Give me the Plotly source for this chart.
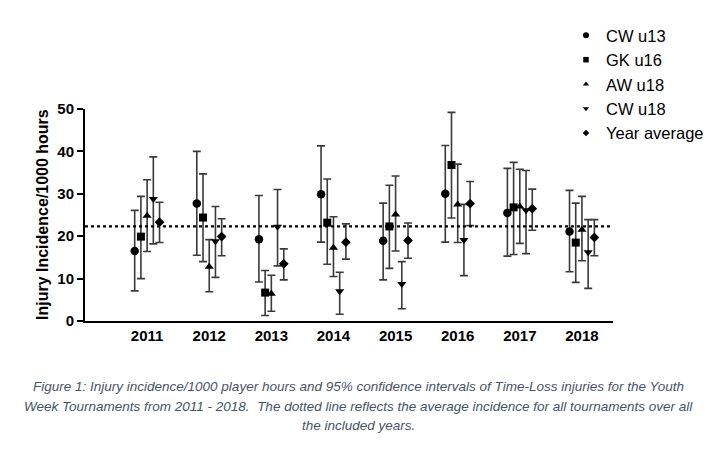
import plotly.graph_objects as go

years = ["2011", "2012", "2013", "2014", "2015", "2016", "2017", "2018"]
series_names = ["CW u13", "GK u16", "AW u18", "CW u18", "Year average"]

cw13_val = [16.5, 27.7, 19.3, 29.9, 18.9, 30.0, 25.5, 21.1]
cw13_hi = [26.1, 40.0, 29.6, 41.3, 27.8, 41.4, 36.0, 30.8]
cw13_lo = [7.1, 15.5, 9.2, 18.6, 9.7, 18.6, 15.3, 11.6]

gk16_val = [19.9, 24.4, 6.7, 23.2, 22.3, 36.8, 26.8, 18.5]
gk16_hi = [29.4, 34.7, 11.9, 33.5, 32.0, 49.2, 37.4, 27.8]
gk16_lo = [10.0, 14.0, 1.3, 13.4, 12.4, 24.3, 15.7, 9.1]

aw18_val = [24.8, 12.8, 6.4, 17.3, 25.1, 27.5, 27.0, 21.5]
aw18_hi = [33.3, 19.2, 10.8, 24.6, 34.2, 37.0, 35.8, 29.4]
aw18_lo = [16.4, 6.9, 2.3, 10.5, 16.5, 18.5, 18.3, 14.2]

cw18_val = [28.8, 18.8, 22.2, 7.0, 8.7, 19.1, 26.1, 16.2]
cw18_hi = [38.7, 27.0, 31.0, 11.5, 14.0, 27.5, 35.5, 23.9]
cw18_lo = [18.2, 10.3, 13.0, 1.6, 2.9, 10.7, 15.9, 7.7]

avg_val = [23.3, 19.9, 13.5, 18.6, 19.0, 27.7, 26.5, 19.7]
avg_hi = [28.0, 24.1, 17.0, 22.9, 23.1, 32.9, 31.1, 23.9]
avg_lo = [18.5, 15.4, 9.7, 14.6, 14.8, 22.5, 21.4, 15.4]

overall_average = 22.3

caption_lines = [
    "Figure 1: Injury incidence/1000 player hours and 95% confidence intervals of Time-Loss injuries for the Youth",
    "Week Tournaments from 2011 - 2018.  The dotted line reflects the average incidence for all tournaments over all",
    "the included years.",
]

series = [
    (cw13_val, cw13_hi, cw13_lo, "circle", 8.5),
    (gk16_val, gk16_hi, gk16_lo, "square", 8),
    (aw18_val, aw18_hi, aw18_lo, "triangle-up", 8),
    (cw18_val, cw18_hi, cw18_lo, "triangle-down", 8),
    (avg_val, avg_hi, avg_lo, "diamond", 7.5),
]

fig = go.Figure()
for name, (val, hi, lo, sym, sz) in zip(series_names, series):
    fig.add_trace(go.Scatter(
        x=years, y=val, name=name, mode="markers",
        offsetgroup=name, showlegend=False,
        marker=dict(symbol=sym, size=sz, color="black"),
        error_y=dict(type="data", symmetric=False,
                     array=[h - v for h, v in zip(hi, val)],
                     arrayminus=[v - l for v, l in zip(val, lo)],
                     color="#3a3a3a", thickness=1.6, width=4),
    ))

# legend-only entries with the smaller legend glyphs
for name, (_, _, _, sym, sz) in zip(series_names, series):
    fig.add_trace(go.Scatter(
        x=[None], y=[None], name=name, mode="markers",
        marker=dict(symbol=sym, size=sz - 2.5, color="black"),
    ))

fig.add_shape(type="line", xref="paper", x0=0, x1=1, yref="y",
              y0=overall_average, y1=overall_average,
              line=dict(color="black", width=2.2, dash="dot"))

# page has an 8px body margin, so the figure is laid out 8px up/left
axis_font = dict(family="Liberation Sans, Arial", size=15, color="black", weight="bold")
fig.update_layout(
    width=706, height=442,
    margin=dict(l=77, r=101, t=101, b=129, autoexpand=False),
    paper_bgcolor="white", plot_bgcolor="white",
    scattermode="group", scattergap=0.5,
    showlegend=True,
    legend=dict(x=(566 - 85) / 528, y=(321 - 18) / 212, xanchor="left", yanchor="top",
                font=dict(family="Liberation Sans, Arial", size=16.5, color="black"),
                bgcolor="rgba(0,0,0,0)", tracegroupgap=0),
    xaxis=dict(type="category", range=[-1, 7.5], showgrid=False, zeroline=False,
               showline=True, linecolor="black", linewidth=2, ticks="",
               tickfont=axis_font),
    yaxis=dict(range=[0, 50], tickvals=[0, 10, 20, 30, 40, 50], showgrid=False,
               zeroline=False, showline=True, linecolor="black", linewidth=2,
               ticks="outside", ticklen=6, tickwidth=2, tickcolor="black",
               tickfont=axis_font),
)

fig.add_annotation(text="Injury Incidence/1000 hours", xref="paper", yref="paper",
                   x=(42 - 85) / 528, y=0.5, xanchor="center", yanchor="middle",
                   textangle=-90, showarrow=False,
                   font=dict(family="Liberation Sans, Arial", size=16, color="black", weight="bold"))

for line, ypix in zip(caption_lines, [386, 406, 425]):
    fig.add_annotation(text=line, xref="paper", yref="paper",
                       x=(358 - 85) / 528, y=(321 - ypix) / 212,
                       xanchor="center", yanchor="middle", showarrow=False,
                       font=dict(family="Liberation Sans, Arial", size=13.5,
                                 color="#44546A", style="italic"))

fig.write_html("out.html")
